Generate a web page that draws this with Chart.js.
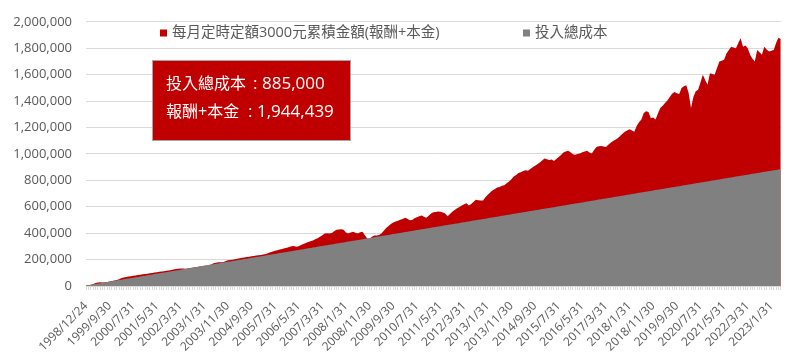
<!DOCTYPE html>
<html>
<head>
<meta charset="utf-8">
<script src="https://cdn.jsdelivr.net/npm/chart.js@4.4.1/dist/chart.umd.min.js"></script>
<style>
  html, body { margin: 0; padding: 0; background: #ffffff; }
  #wrap { width: 800px; height: 362px; position: relative; }
</style>
</head>
<body>
<div id="wrap"><canvas id="c" width="800" height="362"></canvas></div>
<script>
// ---------------- DATA ----------------
const categories = [
"1998/12/24","1998/12/31",
"1999/1/31","1999/2/28","1999/3/31","1999/4/30","1999/5/31","1999/6/30","1999/7/31","1999/8/31","1999/9/30","1999/10/31","1999/11/30","1999/12/31",
"2000/1/31","2000/2/29","2000/3/31","2000/4/30","2000/5/31","2000/6/30","2000/7/31","2000/8/31","2000/9/30","2000/10/31","2000/11/30","2000/12/31",
"2001/1/31","2001/2/28","2001/3/31","2001/4/30","2001/5/31","2001/6/30","2001/7/31","2001/8/31","2001/9/30","2001/10/31","2001/11/30","2001/12/31",
"2002/1/31","2002/2/28","2002/3/31","2002/4/30","2002/5/31","2002/6/30","2002/7/31","2002/8/31","2002/9/30","2002/10/31","2002/11/30","2002/12/31",
"2003/1/31","2003/2/28","2003/3/31","2003/4/30","2003/5/31","2003/6/30","2003/7/31","2003/8/31","2003/9/30","2003/10/31","2003/11/30","2003/12/31",
"2004/1/31","2004/2/29","2004/3/31","2004/4/30","2004/5/31","2004/6/30","2004/7/31","2004/8/31","2004/9/30","2004/10/31","2004/11/30","2004/12/31",
"2005/1/31","2005/2/28","2005/3/31","2005/4/30","2005/5/31","2005/6/30","2005/7/31","2005/8/31","2005/9/30","2005/10/31","2005/11/30","2005/12/31",
"2006/1/31","2006/2/28","2006/3/31","2006/4/30","2006/5/31","2006/6/30","2006/7/31","2006/8/31","2006/9/30","2006/10/31","2006/11/30","2006/12/31",
"2007/1/31","2007/2/28","2007/3/31","2007/4/30","2007/5/31","2007/6/30","2007/7/31","2007/8/31","2007/9/30","2007/10/31","2007/11/30","2007/12/31",
"2008/1/31","2008/2/29","2008/3/31","2008/4/30","2008/5/31","2008/6/30","2008/7/31","2008/8/31","2008/9/30","2008/10/31","2008/11/30","2008/12/31",
"2009/1/31","2009/2/28","2009/3/31","2009/4/30","2009/5/31","2009/6/30","2009/7/31","2009/8/31","2009/9/30","2009/10/31","2009/11/30","2009/12/31",
"2010/1/31","2010/2/28","2010/3/31","2010/4/30","2010/5/31","2010/6/30","2010/7/31","2010/8/31","2010/9/30","2010/10/31","2010/11/30","2010/12/31",
"2011/1/31","2011/2/28","2011/3/31","2011/4/30","2011/5/31","2011/6/30","2011/7/31","2011/8/31","2011/9/30","2011/10/31","2011/11/30","2011/12/31",
"2012/1/31","2012/2/29","2012/3/31","2012/4/30","2012/5/31","2012/6/30","2012/7/31","2012/8/31","2012/9/30","2012/10/31","2012/11/30","2012/12/31",
"2013/1/31","2013/2/28","2013/3/31","2013/4/30","2013/5/31","2013/6/30","2013/7/31","2013/8/31","2013/9/30","2013/10/31","2013/11/30","2013/12/31",
"2014/1/31","2014/2/28","2014/3/31","2014/4/30","2014/5/31","2014/6/30","2014/7/31","2014/8/31","2014/9/30","2014/10/31","2014/11/30","2014/12/31",
"2015/1/31","2015/2/28","2015/3/31","2015/4/30","2015/5/31","2015/6/30","2015/7/31","2015/8/31","2015/9/30","2015/10/31","2015/11/30","2015/12/31",
"2016/1/31","2016/2/29","2016/3/31","2016/4/30","2016/5/31","2016/6/30","2016/7/31","2016/8/31","2016/9/30","2016/10/31","2016/11/30","2016/12/31",
"2017/1/31","2017/2/28","2017/3/31","2017/4/30","2017/5/31","2017/6/30","2017/7/31","2017/8/31","2017/9/30","2017/10/31","2017/11/30","2017/12/31",
"2018/1/31","2018/2/28","2018/3/31","2018/4/30","2018/5/31","2018/6/30","2018/7/31","2018/8/31","2018/9/30","2018/10/31","2018/11/30","2018/12/31",
"2019/1/31","2019/2/28","2019/3/31","2019/4/30","2019/5/31","2019/6/30","2019/7/31","2019/8/31","2019/9/30","2019/10/31","2019/11/30","2019/12/31",
"2020/1/31","2020/2/29","2020/3/31","2020/4/30","2020/5/31","2020/6/30","2020/7/31","2020/8/31","2020/9/30","2020/10/31","2020/11/30","2020/12/31",
"2021/1/31","2021/2/28","2021/3/31","2021/4/30","2021/5/31","2021/6/30","2021/7/31","2021/8/31","2021/9/30","2021/10/31","2021/11/30","2021/12/31",
"2022/1/31","2022/2/28","2022/3/31","2022/4/30","2022/5/31","2022/6/30","2022/7/31","2022/8/31","2022/9/30","2022/10/31","2022/11/30","2022/12/31",
"2023/1/31","2023/2/28","2023/3/31","2023/4/30","2023/5/31"
];

// 每月定時定額3000元累積金額(報酬+本金), in thousands
const valueThousands = [
3,6,10,14,22,27,29,27,29,31,
34,38,42,46,52,60,64,68,72,74,
77,80,84,86,89,91,93,96,98,102,
104,107,110,112,116,118,121,125,128,131,
133,133,131,133,136,139,141,144,147,150,
153,156,159,163,172,176,179,180,179,188,
194,197,199,202,206,210,214,216,219,222,
225,228,230,232,235,238,242,248,256,262,
266,270,276,281,285,290,296,300,302,298,
300,310,318,326,333,338,345,353,362,372,
385,398,400,398,402,415,426,428,430,426,
405,398,405,411,404,398,406,411,385,360,
358,372,383,383,386,398,418,440,455,470,
480,488,494,501,508,516,510,498,500,512,
521,528,534,524,516,532,548,559,560,564,
562,556,548,528,545,562,575,588,598,609,
618,626,610,620,638,652,650,648,647,672,
690,708,722,735,745,750,758,762,778,792,
808,828,840,855,862,870,877,872,885,898,
910,922,935,950,965,960,953,958,947,962,
977,992,1010,1018,1023,1012,998,993,1000,1003,
1012,1018,1023,1010,1003,1030,1053,1058,1060,1056,
1053,1070,1085,1098,1108,1118,1135,1152,1168,1178,
1186,1178,1168,1211,1240,1261,1310,1323,1318,1270,
1275,1261,1305,1348,1365,1385,1405,1430,1455,1469,
1460,1454,1499,1512,1519,1461,1348,1430,1474,1486,
1540,1599,1560,1524,1611,1605,1599,1650,1699,1705,
1712,1760,1787,1812,1805,1800,1840,1875,1812,1820,
1800,1750,1720,1699,1787,1770,1750,1812,1790,1775,
1780,1787,1840,1880,1870
];

// 投入總成本, in thousands
const costThousands = [
3,6,9,12,15,18,21,24,27,30,
33,36,39,42,45,48,51,54,57,60,
63,66,69,72,75,78,81,84,87,90,
93,96,99,102,105,108,111,114,117,120,
123,126,129,132,135,138,141,144,147,150,
153,156,159,162,165,168,171,174,177,180,
183,186,189,192,195,198,201,204,207,210,
213,216,219,222,225,228,231,234,237,240,
243,246,249,252,255,258,261,264,267,270,
273,276,279,282,285,288,291,294,297,300,
303,306,309,312,315,318,321,324,327,330,
333,336,339,342,345,348,351,354,357,360,
363,366,369,372,375,378,381,384,387,390,
393,396,399,402,405,408,411,414,417,420,
423,426,429,432,435,438,441,444,447,450,
453,456,459,462,465,468,471,474,477,480,
483,486,489,492,495,498,501,504,507,510,
513,516,519,522,525,528,531,534,537,540,
543,546,549,552,555,558,561,564,567,570,
573,576,579,582,585,588,591,594,597,600,
603,606,609,612,615,618,621,624,627,630,
633,636,639,642,645,648,651,654,657,660,
663,666,669,672,675,678,681,684,687,690,
693,696,699,702,705,708,711,714,717,720,
723,726,729,732,735,738,741,744,747,750,
753,756,759,762,765,768,771,774,777,780,
783,786,789,792,795,798,801,804,807,810,
813,816,819,822,825,828,831,834,837,840,
843,846,849,852,855,858,861,864,867,870,
873,876,879,882,885
];

const seriesNames = ["每月定時定額3000元累積金額(報酬+本金)", "投入總成本"];
const yTicks = [0, 200000, 400000, 600000, 800000, 1000000, 1200000, 1400000, 1600000, 1800000, 2000000];
const labelEvery = 10;
const boxLabels = ["投入總成本", "報酬+本金"];
const boxValues = ["885,000", "1,944,439"];

// ---------------- CHART ----------------
const CJK = "'Noto Sans CJK TC', sans-serif";
const NUM = "'Open Sans', 'Noto Sans CJK TC', sans-serif";
const TXT = "#595959";

const legendPlugin = {
  id: "customLegend",
  afterDraw(chart) {
    const ctx = chart.ctx;
    ctx.save();
    ctx.font = "14.5px " + NUM;
    ctx.textBaseline = "middle";
    ctx.textAlign = "left";
    const items = [
      { ds: chart.data.datasets[0], x: 160 },
      { ds: chart.data.datasets[1], x: 523 }
    ];
    const y = 33;
    items.forEach(it => {
      ctx.fillStyle = it.ds.backgroundColor;
      ctx.fillRect(it.x, y - 3.5, 7, 7);
      ctx.fillStyle = TXT;
      ctx.fillText(it.ds.label, it.x + 12, y);
    });
    ctx.restore();
  }
};

const boxPlugin = {
  id: "infoBox",
  afterDraw(chart) {
    const ctx = chart.ctx;
    ctx.save();
    ctx.fillStyle = "#C00000";
    ctx.fillRect(152.5, 60.5, 198, 80);
    ctx.strokeStyle = "#A6A6A6";
    ctx.lineWidth = 1;
    ctx.strokeRect(152.5, 60.5, 198, 80);
    ctx.fillStyle = "#FFFFFF";
    ctx.textBaseline = "middle";
    ctx.textAlign = "left";
    const rows = [
      { y: 84.5, colonX: 253, numX: 262 },
      { y: 112, colonX: 248, numX: 257 }
    ];
    rows.forEach((r, k) => {
      ctx.font = "16px " + NUM;
      ctx.fillText(boxLabels[k], 166, r.y);
      ctx.font = "17px " + NUM;
      ctx.fillText(":", r.colonX, r.y);
      ctx.fillText(boxValues[k], r.numX, r.y);
    });
    ctx.restore();
  }
};

new Chart(document.getElementById("c"), {
  type: "line",
  data: {
    labels: categories,
    datasets: [
      {
        label: seriesNames[0],
        data: valueThousands.map(v => v * 1000),
        backgroundColor: "#C00000",
        borderColor: "#C00000",
        borderWidth: 0,
        pointRadius: 0,
        fill: "origin",
        tension: 0,
        order: 2
      },
      {
        label: seriesNames[1],
        data: costThousands.map(v => v * 1000),
        backgroundColor: "#808080",
        borderColor: "#808080",
        borderWidth: 0,
        pointRadius: 0,
        fill: "origin",
        tension: 0,
        order: 1
      }
    ]
  },
  options: {
    responsive: false,
    animation: false,
    devicePixelRatio: 1,
    layout: { padding: { left: 0, right: 12, top: 20, bottom: 0 } },
    plugins: {
      legend: { display: false },
      tooltip: { enabled: false },
      filler: { propagate: false }
    },
    scales: {
      x: {
        type: "category",
        offset: false,
        grid: {
          display: true,
          drawOnChartArea: false,
          drawTicks: true,
          tickLength: 4,
          color: "#D9D9D9"
        },
        border: { display: true, color: "#D9D9D9" },
        ticks: {
          autoSkip: false,
          maxRotation: 45,
          minRotation: 45,
          padding: 9,
          color: TXT,
          font: { family: NUM, size: 12 },
          callback: function (val, idx) {
            return idx % labelEvery === 0 ? categories[idx] : "";
          }
        },
        afterFit(scale) { scale.height = 76; }
      },
      y: {
        min: 0,
        max: 2000000,
        grid: { color: "#D9D9D9", drawTicks: false },
        border: { display: false },
        afterBuildTicks(scale) { scale.ticks = yTicks.map(v => ({ value: v })); },
        ticks: {
          padding: 14,
          color: TXT,
          font: { family: NUM, size: 13 },
          callback: v => v.toLocaleString("en-US")
        },
        afterFit(scale) { scale.width = 86; }
      }
    }
  },
  plugins: [legendPlugin, boxPlugin]
});
</script>
</body>
</html>
